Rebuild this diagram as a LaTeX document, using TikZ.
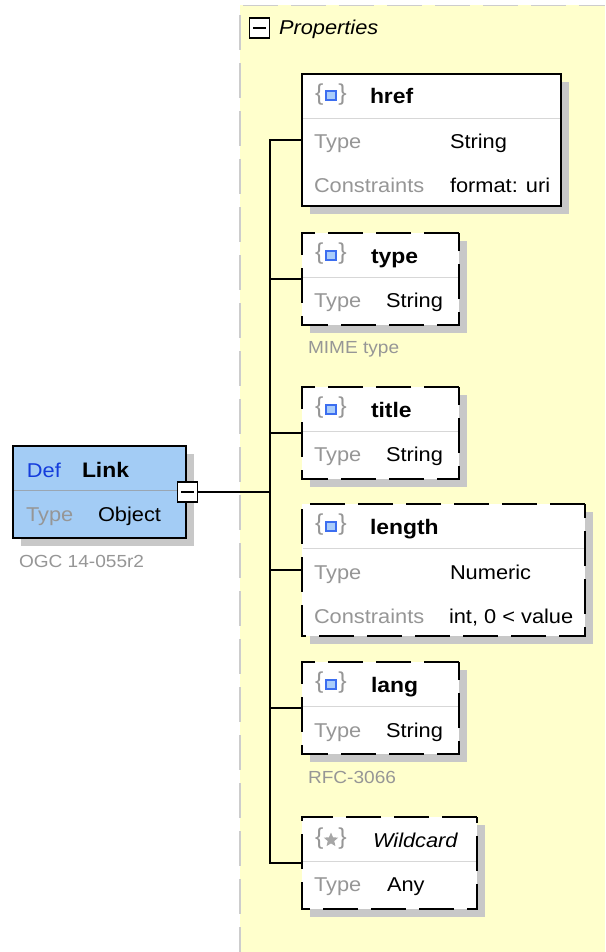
\documentclass[tikz,border=0pt]{standalone}
\usepackage{fontspec}
\usetikzlibrary{shapes.geometric}
\setmainfont[FakeStretch=1.09]{Liberation Sans}
\definecolor{panel}{RGB}{255,255,204}
\definecolor{panelline}{RGB}{205,205,205}
\definecolor{shadowc}{RGB}{200,200,200}
\definecolor{linkfill}{RGB}{163,204,245}
\definecolor{labelc}{RGB}{150,150,150}
\definecolor{sepc}{RGB}{215,215,215}
\definecolor{defc}{RGB}{20,60,220}
\definecolor{iconb}{RGB}{60,110,240}
\definecolor{iconf}{RGB}{170,205,250}
\tikzset{
  x=1pt,y=-1pt,
  every node/.style={inner sep=0pt,outer sep=0pt},
  boxanchor/.style={rectangle,anchor=north west},
  solidedge/.style={draw=black,line width=1.4pt,fill=white},
  linkedge/.style={solidedge,fill=linkfill},
  dashedge/.style={solidedge,dash pattern=on 35pt off 13pt},
  conn/.style={draw=black,line width=1.3pt},
  sepline/.style={draw=sepc,line width=1.3pt},
  lab/.style={text=labelc,font=\fontsize{20}{20}\selectfont,anchor=base west},
  val/.style={text=black,font=\fontsize{20}{20}\selectfont,anchor=base west},
  ttl/.style={text=black,font=\fontsize{21}{21}\selectfont\bfseries,anchor=base west},
  note/.style={text=labelc,font=\fontsize{17.5}{17.5}\selectfont,anchor=base west},
  brace/.style={text=labelc,font=\fontsize{23}{23}\selectfont,anchor=center},
  panelborder/.style={draw=panelline,line width=1.5pt,dash pattern=on 35pt off 13pt},
}
\newcommand{\schemabox}[6]{% edge style,name,x,y,w,h
  \fill[shadowc] (#3+8,#4+8) rectangle ++(#5,#6);
  \node[boxanchor,minimum width=#5pt,minimum height=#6pt] (#2) at (#3,#4) {};
  \path[#1] (#2.north east) -- (#2.north west) -- (#2.south west) -- (#2.south east) -- cycle;
  \draw[sepline] (#3+1,#4+44.5) -- ++(#5-2,0);
}
\newcommand{\elemicon}[2]{% cx cy
  \node[brace] at (#1,#2-1) {\{\hspace{15pt}\}};
  \fill[iconf] (#1-5,#2-4.5) rectangle (#1+5,#2+4.5);
  \draw[iconb,line width=2pt] (#1-5,#2-4.5) rectangle (#1+5,#2+4.5);
}
\begin{document}
\begin{tikzpicture}
\useasboundingbox (0,0) rectangle (605,952);
\fill[white] (0,0) rectangle (605,952);
% panel
\fill[panel] (240,5) rectangle (605,952);
\draw[panelborder,dash phase=38.5pt] (240,5.5) -- (240,952);
\draw[panelborder,dash phase=45pt] (240,5.5) -- (605,5.5);
\node[rectangle,draw=black,line width=1.3pt,fill=white,minimum width=20pt,minimum height=20pt] (propsToggle) at (259.5,28) {};
\draw[black,line width=1.3pt] (253,28) -- (266,28);
\node[anchor=base west,font=\fontsize{20}{20}\selectfont\itshape] (propsLabel) at (279,35) {Properties};
% Link
\schemabox{linkedge}{link}{13}{446}{173}{92}
\draw[line width=1.3pt,draw=labelc!70!linkfill] (14,490.5) -- (185,490.5);
\node[text=defc,font=\fontsize{20}{20}\selectfont,anchor=base west] (linkDef) at (27,477) {Def};
\node[ttl] (linkName) at (82,477) {Link};
\node[lab] (linkTL) at (26,521) {Type};
\node[val] (linkTV) at (98,521) {Object};
\node[note] (linkNote) at (19,567) {OGC 14-055r2};
\node[rectangle,draw=black,line width=1.3pt,fill=white,minimum width=20pt,minimum height=20pt] (toggle) at (187.5,492) {};
\draw[black,line width=1.3pt] (181,492) -- (194,492);
% boxes
\schemabox{solidedge}{href}{302}{74}{259}{132}
\schemabox{dashedge}{type}{302}{233}{157}{92}
\schemabox{dashedge}{title}{302}{387}{157}{92}
\schemabox{dashedge}{length}{302}{504}{283}{132}
\schemabox{dashedge}{lang}{302}{662}{157}{92}
\schemabox{dashedge}{wild}{302}{817}{175}{92}
% connectors
\coordinate (hub) at (270,492);
\draw[conn] (toggle.east) -- (hub);
\foreach \n in {href,type,title,length,lang,wild} \draw[conn] (hub) |- (\n.west);
% href
\elemicon{331}{96}
\node[ttl] at (370,104) {href};
\node[lab] at (314,149) {Type};
\node[val] at (450,149) {String};
\node[lab] at (314,193) {Constraints};
\node[val] at (450,193) {format: uri};
% type
\elemicon{331}{255}
\node[ttl] at (371,263) {type};
\node[lab] at (314,307) {Type};
\node[val] at (386,307) {String};
\node[note] at (308,353) {MIME type};
% title
\elemicon{331}{409}
\node[ttl] at (371,417) {title};
\node[lab] at (314,461) {Type};
\node[val] at (386,461) {String};
% length
\elemicon{331}{526}
\node[ttl] at (370,534) {length};
\node[lab] at (314,579) {Type};
\node[val] at (450,579) {Numeric};
\node[lab] at (314,623) {Constraints};
\node[val] at (449,623) {int, 0 < value};
% lang
\elemicon{331}{684}
\node[ttl] at (371,692) {lang};
\node[lab] at (314,737) {Type};
\node[val] at (386,737) {String};
\node[note] at (308,783) {RFC-3066};
% wildcard
\node[brace] at (331,839) {\{\hspace{15pt}\}};
\node[star,star points=5,star point ratio=2.2,fill=labelc!85,minimum size=15pt] (wildStar) at (331,840) {};
\node[val,font=\fontsize{20}{20}\selectfont\itshape] at (373,847) {Wildcard};
\node[lab] at (314,891) {Type};
\node[val] at (387,891) {Any};
\end{tikzpicture}
\end{document}
